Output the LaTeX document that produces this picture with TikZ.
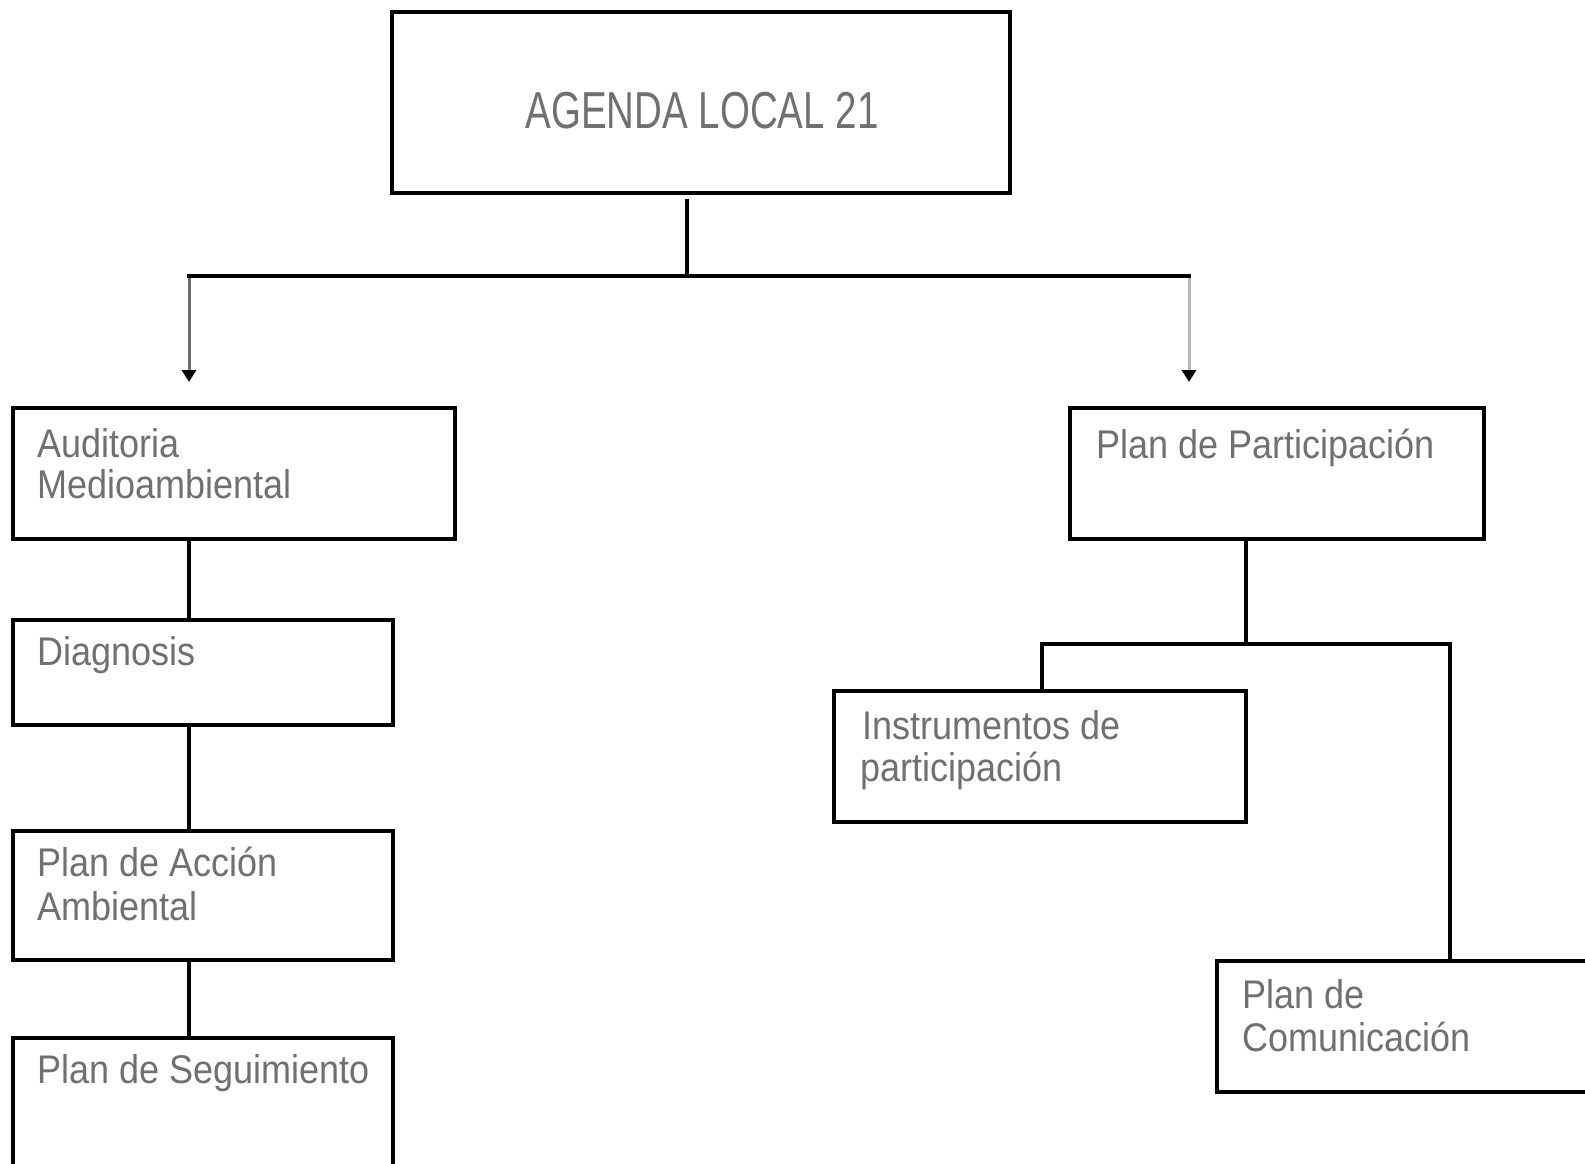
\documentclass[tikz,border=0pt]{standalone}
\usepackage{fontspec}
\setmainfont{Liberation Sans}
\newfontfamily\boxfont{Liberation Sans}[FakeStretch=0.9]
\newfontfamily\topfont{Liberation Sans}[FakeStretch=0.74]
\usetikzlibrary{arrows.meta,calc}
\definecolor{txtgray}{RGB}{112,112,112}
\definecolor{lgray}{RGB}{185,185,185}
\definecolor{dgray}{RGB}{110,110,110}
\tikzset{
  box/.style={draw=black, line width=3.6pt, rectangle, inner sep=0pt, outer sep=0pt, anchor=north west},
  lbl/.style={anchor=base west, inner sep=0pt, text=txtgray, font=\boxfont\fontsize{40}{42}\selectfont},
  conn/.style={draw=black, line width=3.2pt, line join=miter},
  arr/.style={line width=3pt, -{Triangle[width=14pt,length=12pt,color=black]}},
}
\begin{document}
\begin{tikzpicture}[x=1pt,y=-1pt]
\useasboundingbox (0,0) rectangle (1585,1164);
\clip (0,0) rectangle (1585,1164);
% boxes
\node[box, minimum width=618pt, minimum height=181pt] (top) at (392,12) {};
\node[box, minimum width=442pt, minimum height=131pt] (aud) at (13,408) {};
\node[box, minimum width=380pt, minimum height=105pt] (diag) at (13,620) {};
\node[box, minimum width=380pt, minimum height=129pt] (acc) at (13,831) {};
\node[box, minimum width=380pt, minimum height=170pt] (seg) at (13,1038) {};
\node[box, minimum width=414pt, minimum height=131pt] (part) at (1070,408) {};
\node[box, minimum width=412pt, minimum height=131pt] (inst) at (834,691) {};
\node[box, minimum width=430pt, minimum height=131pt] (com) at (1217,961) {};
% texts
\node[anchor=base, inner sep=0pt, text=txtgray, font=\topfont\fontsize{52}{54}\selectfont] (topT) at (702,128) {AGENDA LOCAL 21};
\node[lbl] (audT1) at (37,457) {Auditoria};
\node[lbl] (audT2) at (37,498) {Medioambiental};
\node[lbl] (diagT) at (37,665) {Diagnosis};
\node[lbl] (accT1) at (37,876) {Plan de Acción};
\node[lbl] (accT2) at (37,920) {Ambiental};
\node[lbl] (segT) at (37,1083) {Plan de Seguimiento};
\node[lbl] (partT) at (1096,458) {Plan de Participación};
\node[lbl] (instT1) at (862,739) {Instrumentos de};
\node[lbl] (instT2) at (860,781) {participación};
\node[lbl] (comT1) at (1242,1008) {Plan de};
\node[lbl] (comT2) at (1242,1051) {Comunicación};
% junction coordinates
\coordinate (jn) at (687,276);
\coordinate (lb) at (189,276);
\coordinate (rb) at (1189,276);
\coordinate (pj) at (1246,644);
\coordinate (ij) at (1042,644);
\coordinate (cj) at (1450,644);
% top connectors
\draw[conn] ($(top.south -| jn)+(0,6)$) -- (jn);
\draw[arr, draw=dgray] (lb) -- ($(lb |- aud.north)+(0,-26)$);
\draw[arr, draw=lgray] (rb) -- ($(rb |- part.north)+(0,-26)$);
\draw[conn, line cap=rect] (lb) -- (rb);
% left column
\draw[conn] (aud.south -| lb) -- (diag.north -| lb);
\draw[conn] (diag.south -| lb) -- (acc.north -| lb);
\draw[conn] (acc.south -| lb) -- (seg.north -| lb);
% right branch
\draw[conn] (part.south -| pj) -- (pj);
\draw[conn] (ij |- inst.north) -- (ij) -- (cj) -- (cj |- com.north);
\end{tikzpicture}
\end{document}
